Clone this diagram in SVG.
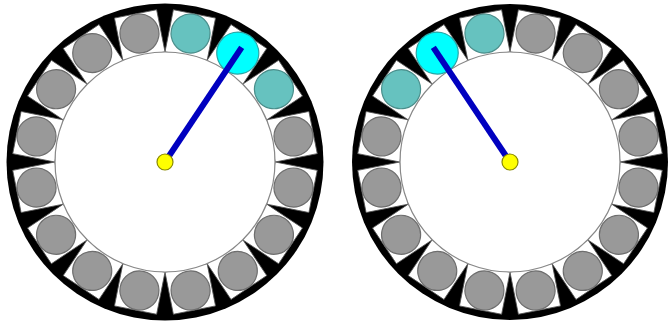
<svg xmlns="http://www.w3.org/2000/svg" xmlns:xlink="http://www.w3.org/1999/xlink" width="670" height="328" viewBox="0 0 670 328">
<style>
.rim{fill:#000}
.cell{fill:#fff;stroke:#555;stroke-width:0.8}
.hub{fill:#fff;stroke:#888;stroke-width:1.2}
.gray{fill:#999;stroke:#6e6e6e;stroke-width:1.2}
.teal{fill:#66c2bf;stroke:#4a8e8b;stroke-width:1.2}
.hot{fill:#00ffff;stroke:#2aa6a6;stroke-width:1.2}
.arm{stroke:#0000c0;stroke-width:6;stroke-linecap:butt}
.pivot{fill:#ffff00;stroke:#8a8a00;stroke-width:1.2}
</style>
<defs>
<rect id="sq" x="-21.5" y="-151" width="43" height="43"/>
</defs>

<g id="wheel-left">
<circle class="rim" cx="165" cy="162" r="158.5"/>
<g transform="translate(165 162)">
<use xlink:href="#sq" class="cell" transform="rotate(11.25)"/>
<use xlink:href="#sq" class="cell" transform="rotate(33.75)"/>
<use xlink:href="#sq" class="cell" transform="rotate(56.25)"/>
<use xlink:href="#sq" class="cell" transform="rotate(78.75)"/>
<use xlink:href="#sq" class="cell" transform="rotate(101.25)"/>
<use xlink:href="#sq" class="cell" transform="rotate(123.75)"/>
<use xlink:href="#sq" class="cell" transform="rotate(146.25)"/>
<use xlink:href="#sq" class="cell" transform="rotate(168.75)"/>
<use xlink:href="#sq" class="cell" transform="rotate(191.25)"/>
<use xlink:href="#sq" class="cell" transform="rotate(213.75)"/>
<use xlink:href="#sq" class="cell" transform="rotate(236.25)"/>
<use xlink:href="#sq" class="cell" transform="rotate(258.75)"/>
<use xlink:href="#sq" class="cell" transform="rotate(281.25)"/>
<use xlink:href="#sq" class="cell" transform="rotate(303.75)"/>
<use xlink:href="#sq" class="cell" transform="rotate(326.25)"/>
<use xlink:href="#sq" class="cell" transform="rotate(348.75)"/>
<circle class="hub" cx="0" cy="0" r="110"/>
<circle class="teal" cx="0" cy="-131" r="19.5" transform="rotate(11.25)"/>
<circle class="hot" cx="0" cy="-131" r="21" transform="rotate(33.75)"/>
<circle class="teal" cx="0" cy="-131" r="19.5" transform="rotate(56.25)"/>
<circle class="gray" cx="0" cy="-131" r="19.5" transform="rotate(78.75)"/>
<circle class="gray" cx="0" cy="-131" r="19.5" transform="rotate(101.25)"/>
<circle class="gray" cx="0" cy="-131" r="19.5" transform="rotate(123.75)"/>
<circle class="gray" cx="0" cy="-131" r="19.5" transform="rotate(146.25)"/>
<circle class="gray" cx="0" cy="-131" r="19.5" transform="rotate(168.75)"/>
<circle class="gray" cx="0" cy="-131" r="19.5" transform="rotate(191.25)"/>
<circle class="gray" cx="0" cy="-131" r="19.5" transform="rotate(213.75)"/>
<circle class="gray" cx="0" cy="-131" r="19.5" transform="rotate(236.25)"/>
<circle class="gray" cx="0" cy="-131" r="19.5" transform="rotate(258.75)"/>
<circle class="gray" cx="0" cy="-131" r="19.5" transform="rotate(281.25)"/>
<circle class="gray" cx="0" cy="-131" r="19.5" transform="rotate(303.75)"/>
<circle class="gray" cx="0" cy="-131" r="19.5" transform="rotate(326.25)"/>
<circle class="gray" cx="0" cy="-131" r="19.5" transform="rotate(348.75)"/>
</g>
</g>

<g id="wheel-right">
<circle class="rim" cx="510" cy="162" r="158"/>
<g transform="translate(510 162)">
<use xlink:href="#sq" class="cell" transform="rotate(11.25)"/>
<use xlink:href="#sq" class="cell" transform="rotate(33.75)"/>
<use xlink:href="#sq" class="cell" transform="rotate(56.25)"/>
<use xlink:href="#sq" class="cell" transform="rotate(78.75)"/>
<use xlink:href="#sq" class="cell" transform="rotate(101.25)"/>
<use xlink:href="#sq" class="cell" transform="rotate(123.75)"/>
<use xlink:href="#sq" class="cell" transform="rotate(146.25)"/>
<use xlink:href="#sq" class="cell" transform="rotate(168.75)"/>
<use xlink:href="#sq" class="cell" transform="rotate(191.25)"/>
<use xlink:href="#sq" class="cell" transform="rotate(213.75)"/>
<use xlink:href="#sq" class="cell" transform="rotate(236.25)"/>
<use xlink:href="#sq" class="cell" transform="rotate(258.75)"/>
<use xlink:href="#sq" class="cell" transform="rotate(281.25)"/>
<use xlink:href="#sq" class="cell" transform="rotate(303.75)"/>
<use xlink:href="#sq" class="cell" transform="rotate(326.25)"/>
<use xlink:href="#sq" class="cell" transform="rotate(348.75)"/>
<circle class="hub" cx="0" cy="0" r="110"/>
<circle class="teal" cx="0" cy="-131" r="19.5" transform="rotate(-11.25)"/>
<circle class="hot" cx="0" cy="-131" r="21" transform="rotate(-33.75)"/>
<circle class="teal" cx="0" cy="-131" r="19.5" transform="rotate(-56.25)"/>
<circle class="gray" cx="0" cy="-131" r="19.5" transform="rotate(11.25)"/>
<circle class="gray" cx="0" cy="-131" r="19.5" transform="rotate(33.75)"/>
<circle class="gray" cx="0" cy="-131" r="19.5" transform="rotate(56.25)"/>
<circle class="gray" cx="0" cy="-131" r="19.5" transform="rotate(78.75)"/>
<circle class="gray" cx="0" cy="-131" r="19.5" transform="rotate(101.25)"/>
<circle class="gray" cx="0" cy="-131" r="19.5" transform="rotate(123.75)"/>
<circle class="gray" cx="0" cy="-131" r="19.5" transform="rotate(146.25)"/>
<circle class="gray" cx="0" cy="-131" r="19.5" transform="rotate(168.75)"/>
<circle class="gray" cx="0" cy="-131" r="19.5" transform="rotate(191.25)"/>
<circle class="gray" cx="0" cy="-131" r="19.5" transform="rotate(213.75)"/>
<circle class="gray" cx="0" cy="-131" r="19.5" transform="rotate(236.25)"/>
<circle class="gray" cx="0" cy="-131" r="19.5" transform="rotate(258.75)"/>
<circle class="gray" cx="0" cy="-131" r="19.5" transform="rotate(281.25)"/>
</g>
</g>

<g id="arms">
<line class="arm" x1="165" y1="162" x2="241.7" y2="47.3"/>
<line class="arm" x1="510" y1="162" x2="433.3" y2="47.3"/>
</g>

<g id="pivot-left"><circle class="pivot" cx="165" cy="162" r="8"/></g>
<g id="pivot-right"><circle class="pivot" cx="510" cy="162" r="8"/></g>
</svg>
